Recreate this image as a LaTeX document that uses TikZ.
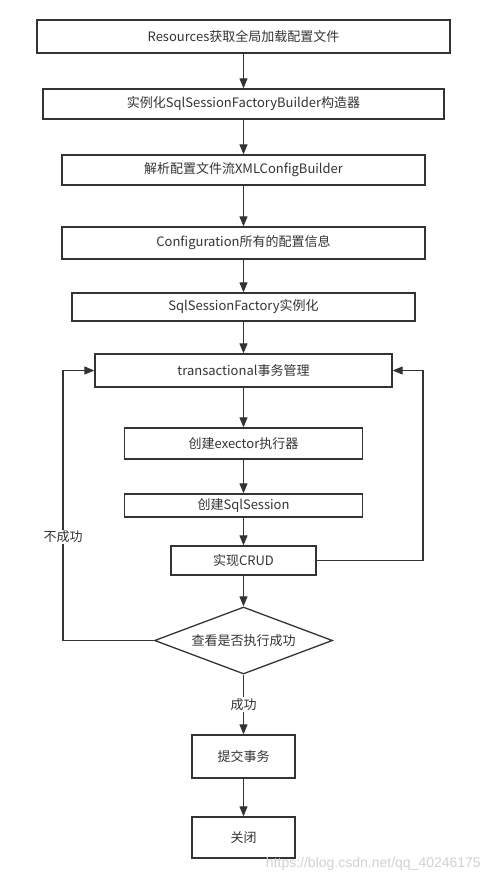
\documentclass[tikz,border=0pt]{standalone}
\usepackage{fontspec}
\setmainfont{Noto Sans CJK SC}
\newfontfamily\markfont{Liberation Sans}
\usetikzlibrary{arrows.meta,shapes.geometric}
\definecolor{LineClr}{rgb}{0.2,0.2,0.2}
\definecolor{MarkClr}{rgb}{0.82,0.82,0.82}

\begin{document}
\begin{tikzpicture}[x=1pt,y=-1pt,
  box/.style={draw=LineClr,line width=1.3pt,text=LineClr,inner sep=0pt,
    font=\fontsize{13pt}{15pt}\selectfont},
  arr/.style={draw=LineClr,line width=1.1pt,-{Triangle[length=10pt,width=8pt]}},
  lbl/.style={fill=white,text=LineClr,inner sep=1pt,font=\fontsize{13pt}{15pt}\selectfont}]
\useasboundingbox (0,0) rectangle (491,883);

\node[box,minimum width=413pt,minimum height=33pt] (res) at (243.5,36.5) {Resources获取全局加载配置文件};
\node[box,minimum width=401pt,minimum height=30pt] (builder) at (243.5,104) {实例化SqlSessionFactoryBuilder构造器};
\node[box,minimum width=363pt,minimum height=30pt] (xml) at (243.5,170) {解析配置文件流XMLConfigBuilder};
\node[box,minimum width=363pt,minimum height=32pt] (conf) at (243.5,243) {Configuration所有的配置信息};
\node[box,minimum width=343pt,minimum height=28pt] (fac) at (243.5,307) {SqlSessionFactory实例化};
\node[box,minimum width=297pt,minimum height=33pt] (trans) at (243.5,370.5) {transactional事务管理};
\node[box,minimum width=238pt,minimum height=31pt] (exec) at (243.5,443.5) {创建exector执行器};
\node[box,minimum width=238pt,minimum height=23pt] (sess) at (243.5,505.5) {创建SqlSession};
\node[box,minimum width=145pt,minimum height=29pt] (crud) at (243.5,560.5) {实现CRUD};
\node[box,diamond,shape aspect=2.66,minimum width=178pt,minimum height=67pt] (check) at (243.5,640.5) {查看是否执行成功};
\node[box,minimum width=103pt,minimum height=43pt] (commit) at (243.5,756.5) {提交事务};
\node[box,minimum width=103pt,minimum height=41pt] (close) at (243.5,837.5) {关闭};

\coordinate (lft) at (63,370.5);
\coordinate (rgt) at (423,370.5);

\draw[arr] (res) -- (builder);
\draw[arr] (builder) -- (xml);
\draw[arr] (xml) -- (conf);
\draw[arr] (conf) -- (fac);
\draw[arr] (fac) -- (trans);
\draw[arr] (trans) -- (exec);
\draw[arr] (exec) -- (sess);
\draw[arr] (sess) -- (crud);
\draw[arr] (crud) -- (check);
\draw[arr] (check) -- node[lbl,pos=0.5]{成功} (commit);
\draw[arr] (commit) -- (close);
\draw[arr] (check.west) -| (lft) -- (trans.west);
\draw[arr] (crud.east) -| (rgt) -- (trans.east);
\node[lbl] (fail) at (63,537) {不成功};

\node[anchor=east,text=MarkClr,inner sep=0pt,font=\markfont\fontsize{14pt}{16pt}\selectfont] (mark) at (481,864) {https://blog.csdn.net/qq\_40246175};
\end{tikzpicture}
\end{document}
